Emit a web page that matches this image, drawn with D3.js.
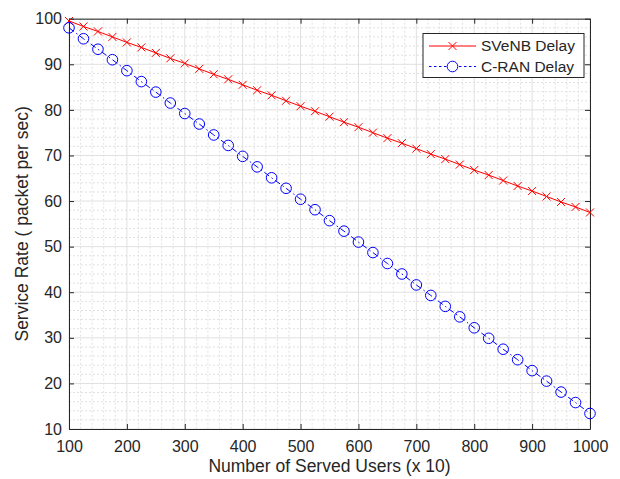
<!DOCTYPE html>
<html>
<head>
<meta charset="utf-8">
<script src="https://cdn.jsdelivr.net/npm/d3@7"></script>
<style>
  body { margin: 0; background: #fff; }
  text { font-family: "Liberation Sans", Arial, sans-serif; fill: #262626; }
</style>
</head>
<body>
<svg id="chart" width="620" height="479"></svg>
<script>
// served users (x 10), one marker every 25
var users = [100, 125, 150, 175, 200, 225, 250, 275, 300, 325, 350, 375, 400, 425, 450, 475, 500,
  525, 550, 575, 600, 625, 650, 675, 700, 725, 750, 775, 800, 825, 850, 875, 900, 925, 950, 975, 1000];

var svenbDelay = [99.5, 98.3, 97.2, 96.0, 94.8, 93.7, 92.5, 91.3, 90.2, 89.0, 87.8, 86.7, 85.5, 84.3,
  83.2, 82.0, 80.8, 79.7, 78.5, 77.3, 76.2, 75.0, 73.8, 72.7, 71.5, 70.3, 69.2, 68.0, 66.8, 65.7,
  64.5, 63.3, 62.2, 61.0, 59.8, 58.7, 57.5];

var cranDelay = [98.0, 95.6, 93.3, 91.0, 88.6, 86.2, 83.9, 81.5, 79.2, 76.9, 74.5, 72.2, 69.8, 67.5,
  65.1, 62.8, 60.4, 58.1, 55.7, 53.4, 51.0, 48.7, 46.3, 44.0, 41.6, 39.3, 36.9, 34.6, 32.2, 29.9,
  27.5, 25.2, 22.8, 20.5, 18.1, 15.8, 13.4];

var xTicks = [100, 200, 300, 400, 500, 600, 700, 800, 900, 1000];
var yTicks = [10, 20, 30, 40, 50, 60, 70, 80, 90, 100];
var seriesNames = ["SVeNB Delay", "C-RAN Delay"];

var svg = d3.select("#chart");
var padL = 69, padR = 590, padT = 18.7, padB = 429;

var x = d3.scaleLinear().domain([100, 1000]).range([padL, padR]);
var y = d3.scaleLinear().domain([10, 100]).range([padB, padT]);

// grid: minor dotted, major solid
var grid = svg.append("g");
var xMinor = d3.range(100, 1001, 20).filter(function (d) { return d % 100 !== 0; });
var yMinor = d3.range(10, 101, 2).filter(function (d) { return d % 10 !== 0; });

grid.selectAll(".xminor").data(xMinor).enter().append("line")
  .attr("x1", function (d) { return x(d); }).attr("x2", function (d) { return x(d); })
  .attr("y1", padT).attr("y2", padB)
  .attr("stroke", "#e0e0e0").attr("stroke-width", 1).attr("stroke-dasharray", "2,2");
grid.selectAll(".yminor").data(yMinor).enter().append("line")
  .attr("y1", function (d) { return y(d); }).attr("y2", function (d) { return y(d); })
  .attr("x1", padL).attr("x2", padR)
  .attr("stroke", "#e0e0e0").attr("stroke-width", 1).attr("stroke-dasharray", "2,2");
grid.selectAll(".xmajor").data(xTicks).enter().append("line")
  .attr("x1", function (d) { return x(d); }).attr("x2", function (d) { return x(d); })
  .attr("y1", padT).attr("y2", padB)
  .attr("stroke", "#e0e0e0").attr("stroke-width", 1);
grid.selectAll(".ymajor").data(yTicks).enter().append("line")
  .attr("y1", function (d) { return y(d); }).attr("y2", function (d) { return y(d); })
  .attr("x1", padL).attr("x2", padR)
  .attr("stroke", "#e0e0e0").attr("stroke-width", 1);

// axes (ticks inside, box all round)
function styleAxis(g) {
  g.select(".domain").attr("stroke", "#262626");
  g.selectAll(".tick line").attr("stroke", "#262626");
  g.selectAll(".tick text").style("font-size", "16px").attr("fill", "#262626");
}
svg.append("g").attr("transform", "translate(0," + padB + ")")
  .call(d3.axisBottom(x).tickValues(xTicks).tickFormat(d3.format("d"))
    .tickSizeInner(-5).tickSizeOuter(0).tickPadding(12))
  .call(styleAxis);
svg.append("g").attr("transform", "translate(" + padL + ",0)")
  .call(d3.axisLeft(y).tickValues(yTicks).tickFormat(d3.format("d"))
    .tickSizeInner(-5).tickSizeOuter(0).tickPadding(7))
  .call(styleAxis);
svg.append("g").attr("transform", "translate(0," + padT + ")")
  .call(d3.axisTop(x).tickValues(xTicks).tickSizeInner(-5).tickSizeOuter(0).tickFormat(""))
  .call(styleAxis);
svg.append("g").attr("transform", "translate(" + padR + ",0)")
  .call(d3.axisRight(y).tickValues(yTicks).tickSizeInner(-5).tickSizeOuter(0).tickFormat(""))
  .call(styleAxis);

// series
var line = d3.line().x(function (d) { return x(d[0]); }).y(function (d) { return y(d[1]); });
var svenbPts = users.map(function (u, i) { return [u, svenbDelay[i]]; });
var cranPts = users.map(function (u, i) { return [u, cranDelay[i]]; });

svg.append("path").datum(svenbPts).attr("d", line)
  .attr("fill", "none").attr("stroke", "#ff0000").attr("stroke-width", 1);
svg.append("path").datum(cranPts).attr("d", line)
  .attr("fill", "none").attr("stroke", "#0000ff").attr("stroke-width", 1)
  .attr("stroke-dasharray", "6,3,1.5,3");

function crossPath(cx, cy, s) {
  return "M" + (cx - s) + "," + (cy - s) + "L" + (cx + s) + "," + (cy + s) +
    "M" + (cx - s) + "," + (cy + s) + "L" + (cx + s) + "," + (cy - s);
}
svg.append("g").selectAll("path").data(svenbPts).enter().append("path")
  .attr("d", function (d) { return crossPath(x(d[0]), y(d[1]), 4); })
  .attr("stroke", "#ff0000").attr("stroke-width", 1).attr("fill", "none");
svg.append("g").selectAll("circle").data(cranPts).enter().append("circle")
  .attr("cx", function (d) { return x(d[0]); }).attr("cy", function (d) { return y(d[1]); })
  .attr("r", 5.3).attr("stroke", "#0000ff").attr("stroke-width", 1).attr("fill", "none");

// axis labels
svg.append("text").attr("x", (padL + padR) / 2).attr("y", 472)
  .attr("text-anchor", "middle").style("font-size", "17.5px")
  .text("Number of Served Users (x 10)");
svg.append("text").attr("transform", "translate(28," + ((padT + padB) / 2) + ") rotate(-90)")
  .attr("text-anchor", "middle").style("font-size", "17.5px")
  .text("Service Rate ( packet per sec)");

// legend
var lg = svg.append("g").attr("transform", "translate(423,33.5)");
lg.append("rect").attr("width", 161).attr("height", 44)
  .attr("fill", "#fff").attr("stroke", "#262626").attr("stroke-width", 1);
var rows = lg.selectAll(".legend").data(seriesNames).enter().append("g")
  .attr("class", "legend")
  .attr("transform", function (d, i) { return "translate(0," + (12.5 + i * 20.5) + ")"; });
rows.append("line").attr("x1", 6).attr("x2", 53).attr("y1", 0).attr("y2", 0)
  .attr("stroke", function (d, i) { return i === 0 ? "#ff0000" : "#0000ff"; })
  .attr("stroke-dasharray", function (d, i) { return i === 0 ? null : "2.5,2.5"; });
rows.filter(function (d, i) { return i === 0; }).append("path")
  .attr("d", crossPath(29.5, 0, 4)).attr("stroke", "#ff0000").attr("fill", "none");
rows.filter(function (d, i) { return i === 1; }).append("circle")
  .attr("cx", 29.5).attr("cy", 0).attr("r", 5.3).attr("stroke", "#0000ff").attr("fill", "#fff");
rows.append("text").attr("x", 58).attr("y", 0).attr("dy", ".35em")
  .style("font-size", "15.5px").text(function (d) { return d; });
</script>
</body>
</html>
